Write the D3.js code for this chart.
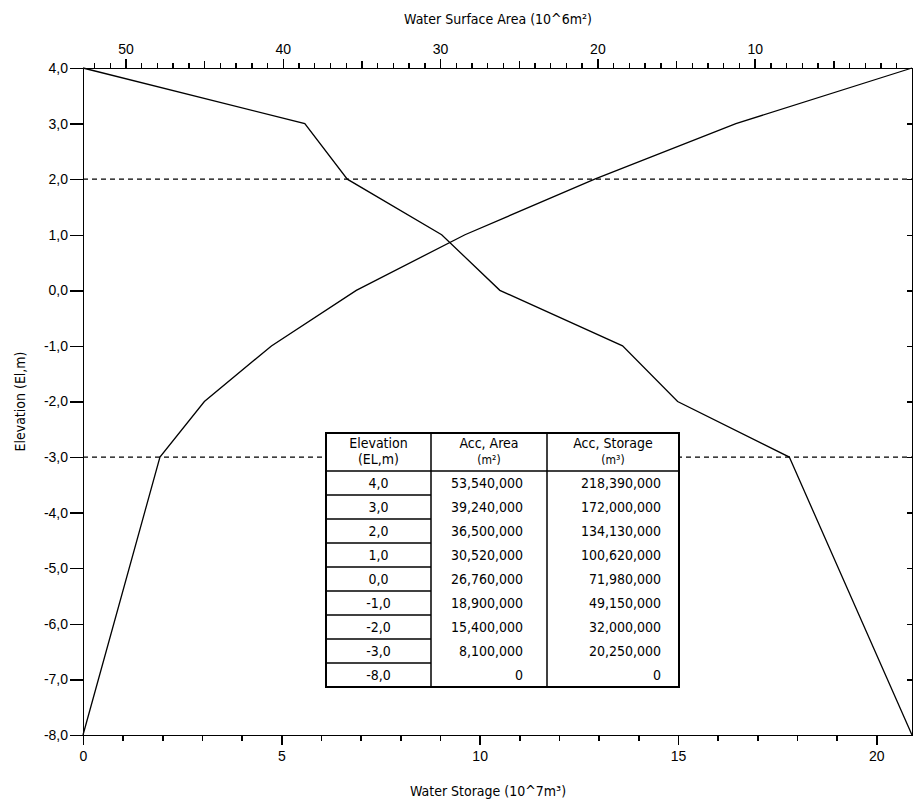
<!DOCTYPE html>
<html>
<head>
<meta charset="utf-8">
<script src="https://cdn.jsdelivr.net/npm/d3@7"></script>
<style>
  body { margin: 0; background: #fff; }
  svg { display: block; font-family: "Liberation Sans Narrow", "Arial Narrow", "DejaVu Sans Condensed", sans-serif; }
  .axis path, .axis line { stroke: #000; stroke-width: 1.4; shape-rendering: crispEdges; }
  .axis text { font-size: 14px; fill: #000; }
</style>
</head>
<body>
<svg width="913" height="803"></svg>
<script>
// elevation levels (EL, m)
const elevations = [4, 3, 2, 1, 0, -1, -2, -3, -8];
// values (in the units of each axis)
const areaValues = [52.7, 38.6, 35.9, 29.9, 26.2, 18.4, 14.9, 7.8, 0];      // 10^6 m2, top axis
const storageValues = [20.9, 16.46, 12.9, 9.63, 6.89, 4.75, 3.06, 1.94, 0]; // 10^7 m3, bottom axis
const dashedLevels = [2, -3];

const storageLabels = [0, 5, 10, 15, 20];
const areaLabels = [50, 40, 30, 20, 10];

// table text
const tableElev = ["4,0", "3,0", "2,0", "1,0", "0,0", "-1,0", "-2,0", "-3,0", "-8,0"];
const tableArea = ["53,540,000", "39,240,000", "36,500,000", "30,520,000", "26,760,000",
  "18,900,000", "15,400,000", "8,100,000", "0"];
const tableStorage = ["218,390,000", "172,000,000", "134,130,000", "100,620,000", "71,980,000",
  "49,150,000", "32,000,000", "20,250,000", "0"];

const plotLeft = 83, plotRight = 912, plotTop = 68, plotBottom = 735;

const svg = d3.select("svg");

const x = d3.scaleLinear().domain([0, 20.9]).range([plotLeft, plotRight]);
const xTop = d3.scaleLinear().domain([52.7, 0]).range([plotLeft, plotRight]);
const y = d3.scaleLinear().domain([-8, 4]).range([plotBottom, plotTop]);

const fmt = d => d.toFixed(1).replace(".", ",");

// dashed reference levels
svg.selectAll("line.dash")
  .data(dashedLevels)
  .enter()
  .append("line")
  .attr("class", "dash")
  .attr("x1", plotLeft)
  .attr("x2", plotRight)
  .attr("y1", d => y(d))
  .attr("y2", d => y(d))
  .attr("stroke", "#000")
  .attr("stroke-width", 1.4)
  .attr("stroke-dasharray", "5,4");

// curves
const line = d3.line().x(d => d[0]).y(d => d[1]);
svg.append("path")
  .attr("d", line(elevations.map((e, i) => [xTop(areaValues[i]), y(e)])))
  .attr("fill", "none")
  .attr("stroke", "#000")
  .attr("stroke-width", 1.3);
svg.append("path")
  .attr("d", line(elevations.map((e, i) => [x(storageValues[i]), y(e)])))
  .attr("fill", "none")
  .attr("stroke", "#000")
  .attr("stroke-width", 1.3);

// bottom axis: minor then major ticks
svg.append("g").attr("class", "axis")
  .attr("transform", `translate(0,${plotBottom})`)
  .call(d3.axisBottom(x).tickValues(d3.range(0, 21)).tickSize(6).tickSizeOuter(0).tickFormat(""));
svg.append("g").attr("class", "axis")
  .attr("transform", `translate(0,${plotBottom})`)
  .call(d3.axisBottom(x).tickValues(storageLabels).tickSize(10).tickSizeOuter(0).tickPadding(6))
  .call(g => g.select(".domain").remove());

// top axis
svg.append("g").attr("class", "axis")
  .attr("transform", `translate(0,${plotTop})`)
  .call(d3.axisTop(xTop).tickValues(d3.range(1, 53)).tickSize(5).tickSizeOuter(0).tickFormat(""));
svg.append("g").attr("class", "axis")
  .attr("transform", `translate(0,${plotTop})`)
  .call(d3.axisTop(xTop).tickValues([45, 35, 25, 15, 5]).tickSize(7).tickFormat(""))
  .call(g => g.select(".domain").remove());
svg.append("g").attr("class", "axis")
  .attr("transform", `translate(0,${plotTop})`)
  .call(d3.axisTop(xTop).tickValues(areaLabels).tickSize(9).tickPadding(5))
  .call(g => g.select(".domain").remove());

// left axis
svg.append("g").attr("class", "axis")
  .attr("transform", `translate(${plotLeft},0)`)
  .call(d3.axisLeft(y).tickValues(d3.range(-8, 5)).tickSize(13).tickSizeOuter(0).tickPadding(2).tickFormat(fmt));

// right axis, short inward ticks
svg.append("g").attr("class", "axis")
  .attr("transform", `translate(${plotRight},0)`)
  .call(d3.axisLeft(y).tickValues(d3.range(-7, 4)).tickSize(0).tickSizeOuter(0).tickFormat(""))
  .call(g => g.selectAll(".tick line").attr("x2", -5));

// axis titles
svg.append("text")
  .attr("x", 498).attr("y", 24)
  .attr("text-anchor", "middle")
  .attr("font-size", "14px")
  .text("Water Surface Area (10^6m²)");
svg.append("text")
  .attr("x", 488).attr("y", 796)
  .attr("text-anchor", "middle")
  .attr("font-size", "14px")
  .text("Water Storage (10^7m³)");
svg.append("text")
  .attr("transform", `translate(25,${(plotTop + plotBottom) / 2}) rotate(-90)`)
  .attr("text-anchor", "middle")
  .attr("font-size", "14px")
  .text("Elevation (El,m)");

// data table
const tbl = { x0: 326, x1: 431, x2: 547, x3: 679, y0: 433, head: 38, row: 24 };
const tg = svg.append("g");
const tBottom = tbl.y0 + tbl.head + tbl.row * tableElev.length;
tg.append("rect")
  .attr("x", tbl.x0).attr("y", tbl.y0)
  .attr("width", tbl.x3 - tbl.x0).attr("height", tBottom - tbl.y0)
  .attr("fill", "#fff").attr("stroke", "#000").attr("stroke-width", 2);
[tbl.x1, tbl.x2].forEach(cx => {
  tg.append("line")
    .attr("x1", cx).attr("x2", cx)
    .attr("y1", tbl.y0).attr("y2", tBottom)
    .attr("stroke", "#000").attr("stroke-width", 1.5);
});
tg.append("line")
  .attr("x1", tbl.x0).attr("x2", tbl.x3)
  .attr("y1", tbl.y0 + tbl.head).attr("y2", tbl.y0 + tbl.head)
  .attr("stroke", "#000").attr("stroke-width", 1.5);
tableElev.slice(0, -1).forEach((d, i) => {
  const ly = tbl.y0 + tbl.head + tbl.row * (i + 1);
  tg.append("line")
    .attr("x1", tbl.x0).attr("x2", tbl.x1)
    .attr("y1", ly).attr("y2", ly)
    .attr("stroke", "#000").attr("stroke-width", 1.3);
});

const headers = [
  { cx: (tbl.x0 + tbl.x1) / 2, l1: "Elevation", l2: "(EL,m)" },
  { cx: (tbl.x1 + tbl.x2) / 2, l1: "Acc, Area", l2: "(m²)" },
  { cx: (tbl.x2 + tbl.x3) / 2, l1: "Acc, Storage", l2: "(m³)" }
];
headers.forEach(h => {
  tg.append("text").attr("x", h.cx).attr("y", tbl.y0 + 15)
    .attr("text-anchor", "middle").attr("font-size", "14px").text(h.l1);
  tg.append("text").attr("x", h.cx).attr("y", tbl.y0 + 31)
    .attr("text-anchor", "middle").attr("font-size", h.l2.length > 4 ? "14px" : "12px").text(h.l2);
});

tableElev.forEach((d, i) => {
  const ty = tbl.y0 + tbl.head + tbl.row * i + 17;
  tg.append("text").attr("x", (tbl.x0 + tbl.x1) / 2).attr("y", ty)
    .attr("text-anchor", "middle").attr("font-size", "14px").text(d);
  tg.append("text").attr("x", 523).attr("y", ty)
    .attr("text-anchor", "end").attr("font-size", "14px").text(tableArea[i]);
  tg.append("text").attr("x", 661).attr("y", ty)
    .attr("text-anchor", "end").attr("font-size", "14px").text(tableStorage[i]);
});
</script>
</body>
</html>
